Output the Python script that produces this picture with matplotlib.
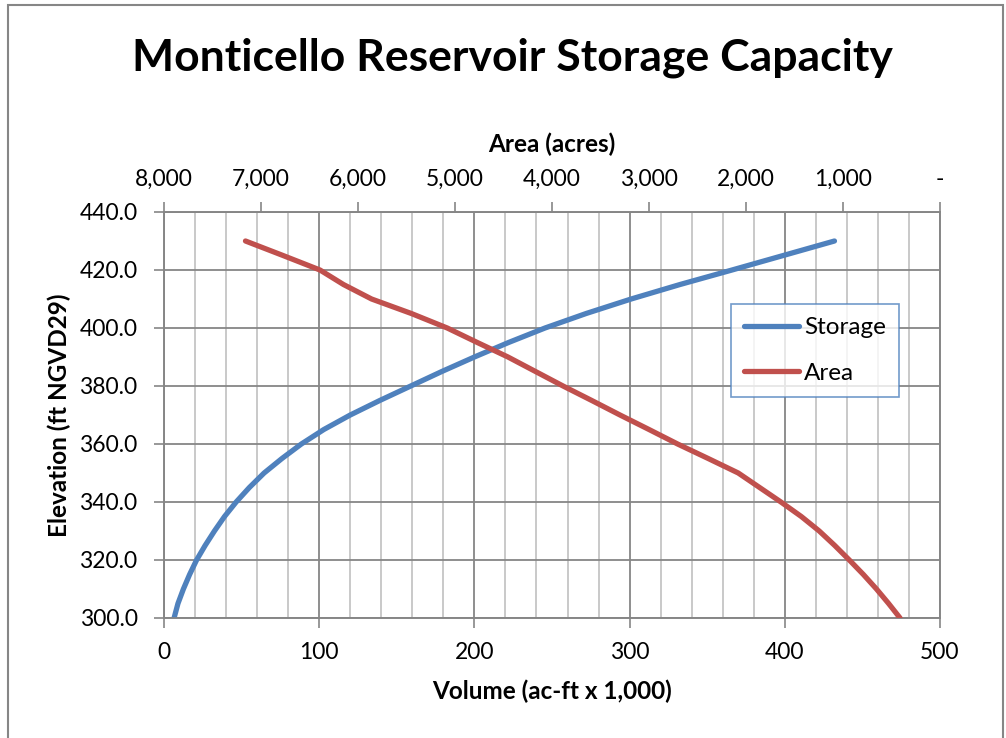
import matplotlib
matplotlib.use("Agg")
import matplotlib.pyplot as plt
from matplotlib.ticker import MultipleLocator, FuncFormatter, FixedLocator
from matplotlib.patches import Rectangle

# Storage curve: elevation (ft) vs volume (ac-ft x 1,000)
storage_elev = [300, 305, 310, 315, 320, 325, 330, 335, 340, 345, 350, 355, 360, 365,
                370, 375, 380, 385, 390, 395, 400, 405, 410, 415, 420, 425, 430]
storage_vol = [6.5, 9.0, 12.5, 16.5, 21.0, 26.5, 32.5, 39.0, 46.5, 55.0, 64.5, 76.0, 88.5, 103.0,
               120.0, 139.0, 159.0, 179.0, 200.0, 222.0, 245.5, 272.0, 301.0, 332.5, 366.0, 399.0, 432.0]

# Area curve: elevation (ft) vs area (acres)
area_elev = [300, 305, 310, 315, 320, 325, 330, 335, 340, 345, 350, 355, 360, 365, 370,
             375, 380, 385, 390, 395, 400, 405, 410, 415, 420, 425, 430]
area_acres = [412, 530, 655, 790, 935, 1085, 1245, 1430, 1640, 1860, 2080, 2390, 2705, 3000, 3299,
              3590, 3886, 4170, 4454, 4770, 5080, 5450, 5860, 6150, 6392, 6773, 7160]

title = "Monticello Reservoir Storage Capacity"
xlabel_bottom = "Volume (ac-ft x 1,000)"
xlabel_top = "Area (acres)"
ylabel = "Elevation (ft NGVD29)"

FONT = "Lato"
plt.rcParams['font.family'] = [FONT, 'DejaVu Sans']

blue = "#4F81BD"
red = "#C0504D"
gridc = "#868686"
minorc = "#C0C0C0"
TICK_FS = 16.5
LABEL_FS = 17.5

fig = plt.figure(figsize=(10.06, 7.38), dpi=100)
W, H = 1006, 738
ax = fig.add_axes([164 / W, 1 - 618 / H, (940 - 164) / W, (618 - 212) / H])

ax.plot(storage_vol, storage_elev, color=blue, lw=3.8, solid_capstyle='round',
        solid_joinstyle='round', label="Storage", zorder=3)
ax.set_xlim(0, 500)
ax.set_ylim(300, 440)
ax.xaxis.set_major_locator(MultipleLocator(100))
ax.xaxis.set_minor_locator(MultipleLocator(20))
ax.yaxis.set_major_locator(MultipleLocator(20))
ax.yaxis.set_major_formatter(FuncFormatter(lambda v, p: f"{v:.1f}"))
ax.grid(True, which='minor', axis='x', color=minorc, lw=1.2)
ax.grid(True, which='major', axis='x', color=gridc, lw=1.3)
ax.grid(True, which='major', axis='y', color=gridc, lw=1.3)
ax.set_axisbelow(True)
ax.tick_params(axis='both', which='major', direction='out', length=7, width=1.2, color=gridc,
               labelsize=TICK_FS)
ax.tick_params(axis='x', which='major', pad=10)
ax.tick_params(axis='y', which='major', pad=12)
ax.tick_params(axis='x', which='minor', length=0)
for s in ['left', 'bottom', 'right', 'top']:
    ax.spines[s].set_color(gridc)
    ax.spines[s].set_linewidth(1.2)
ax.set_xlabel(xlabel_bottom, fontsize=LABEL_FS, fontweight='bold', labelpad=12)
ax.set_ylabel(ylabel, fontsize=LABEL_FS, fontweight='bold', labelpad=6)

ax2 = ax.twiny()
ax2.plot(area_acres, area_elev, color=red, lw=3.8, solid_capstyle='round',
         solid_joinstyle='round', label="Area", zorder=3)
ax2.set_xlim(8000, 0)
ax2.xaxis.set_major_locator(FixedLocator(list(range(0, 8001, 1000))))
ax2.xaxis.set_major_formatter(FuncFormatter(lambda v, p: "-" if abs(v) < 1e-9 else f"{v:,.0f}"))
ax2.tick_params(axis='x', direction='out', length=7, width=1.2, color=gridc,
                labelsize=TICK_FS, pad=9)
for s in ['left', 'bottom', 'right', 'top']:
    ax2.spines[s].set_color(gridc)
    ax2.spines[s].set_linewidth(1.2)
ax2.set_xlabel(xlabel_top, fontsize=LABEL_FS, fontweight='bold', labelpad=12)

h1, l1 = ax.get_legend_handles_labels()
h2, l2 = ax2.get_legend_handles_labels()
leg = ax2.legend(h1 + h2, l1 + l2, loc='upper left',
                 bbox_to_anchor=((731 - 164) / 776, (618 - 304) / 406),
                 fontsize=17.5, frameon=True, fancybox=False, handlelength=2.25,
                 handletextpad=0.2, labelspacing=1.0, borderpad=0.55, borderaxespad=0)
leg.get_frame().set_edgecolor(blue)
leg.get_frame().set_linewidth(1.2)

fig.text(512 / W, 1 - 58 / H, title, ha='center', va='center', fontsize=32, fontweight='bold')

fig.patches.append(Rectangle((8 / W, -0.01), (1003 - 8) / W, 1 - 5 / H + 0.01,
                             transform=fig.transFigure, fill=False, edgecolor=gridc, lw=1.5))

fig.savefig("out.png", dpi=100)
